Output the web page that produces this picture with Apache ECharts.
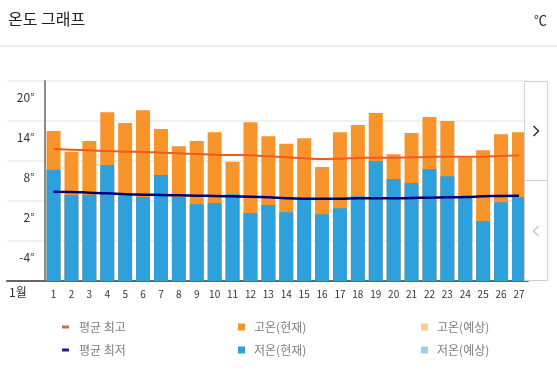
<!DOCTYPE html>
<html>
<head>
<meta charset="utf-8">
<script src="https://cdn.jsdelivr.net/npm/echarts@6/dist/echarts.min.js"></script>
<style>
    html, body { margin: 0; padding: 0; background: #fff; }
    #temp-chart { width: 557px; height: 376px; }
</style>
</head>
<body>
<div id="temp-chart"></div>
<script>
var days = ['1', '2', '3', '4', '5', '6', '7', '8', '9', '10', '11', '12', '13', '14',
    '15', '16', '17', '18', '19', '20', '21', '22', '23', '24', '25', '26', '27'];
var highNow = [12.5, 9.4, 11.0, 15.3, 13.7, 15.6, 12.8, 10.2, 11.0, 12.3, 7.9, 13.8, 11.7, 10.6,
    11.4, 7.1, 12.3, 13.4, 15.2, 9.0, 12.2, 14.6, 14.0, 8.5, 9.6, 12.0, 12.3];
var lowNow = [6.7, 2.9, 2.9, 7.4, 2.8, 2.6, 5.9, 2.6, 1.5, 1.7, 3.0, 0.2, 1.4, 0.3,
    2.2, 0.0, 0.9, 2.7, 8.0, 5.3, 4.7, 6.8, 5.7, 2.6, -1.0, 1.8, 2.6];
var highForecast = [];
var lowForecast = [];
var avgHigh = [9.8, 9.7, 9.6, 9.5, 9.4, 9.35, 9.25, 9.15, 9.05, 8.95, 8.9, 8.85, 8.7, 8.55,
    8.4, 8.3, 8.35, 8.45, 8.5, 8.5, 8.55, 8.6, 8.65, 8.65, 8.65, 8.75, 8.85];
var avgLow = [3.4, 3.35, 3.25, 3.15, 3.0, 2.95, 2.9, 2.85, 2.8, 2.75, 2.7, 2.65, 2.55, 2.4,
    2.35, 2.35, 2.35, 2.4, 2.4, 2.4, 2.45, 2.5, 2.55, 2.6, 2.7, 2.75, 2.8];
var yTicks = [-10, -4, 2, 8, 14, 20];

var font = '"Noto Sans CJK KR", "Noto Sans", sans-serif';

function legendBox(left, names, w, h, padLeft) {
    return {
        orient: 'vertical',
        left: left,
        top: 320,
        padding: 0,
        itemGap: 9,
        itemWidth: w,
        itemHeight: h,
        icon: 'rect',
        selectedMode: false,
        textStyle: {
            color: '#7f7f7f',
            fontSize: 12,
            lineHeight: 14,
            fontFamily: font,
            padding: [0, 0, 0, padLeft]
        },
        data: names
    };
}

var option = {
    animation: false,
    textStyle: { fontFamily: font },
    legend: [
        legendBox(62, [
            { name: '평균 최고', itemStyle: { color: '#cc6a54' } },
            { name: '평균 최저', itemStyle: { color: '#20208a' } }
        ], 7, 3, 5),
        legendBox(238, ['고온(현재)', '저온(현재)'], 7, 7, 4),
        legendBox(421, ['고온(예상)', '저온(예상)'], 7, 7, 4)
    ],
    grid: [
        { left: 44.6, top: 81, width: 483.3, height: 200 },
        { left: 7, top: 81, width: 37.6, height: 200 }
    ],
    xAxis: [
        {
            type: 'category',
            gridIndex: 0,
            data: days,
            axisTick: { show: false },
            axisLine: { onZero: false, lineStyle: { color: '#666', width: 2 } },
            axisLabel: { interval: 0, color: '#333', fontSize: 10, margin: 8 }
        },
        {
            type: 'category',
            gridIndex: 1,
            data: [''],
            axisTick: { show: false },
            axisLabel: { show: false },
            axisLine: { onZero: false, lineStyle: { color: '#666', width: 2 } }
        }
    ],
    yAxis: [
        {
            type: 'value',
            gridIndex: 0,
            min: yTicks[0],
            max: yTicks[yTicks.length - 1],
            startValue: yTicks[0],
            interval: 6,
            axisTick: { show: false },
            axisLine: { show: true, onZero: false, lineStyle: { color: '#8c8c8c', width: 2 } },
            splitLine: { lineStyle: { color: '#ececec', width: 1.5 } },
            axisLabel: {
                color: '#333',
                fontSize: 12,
                margin: 10,
                verticalAlign: 'top',
                lineHeight: 32,
                showMinLabel: false,
                formatter: '{value}°'
            }
        },
        {
            type: 'value',
            gridIndex: 1,
            min: yTicks[0],
            max: yTicks[yTicks.length - 1],
            interval: 6,
            axisTick: { show: false },
            axisLine: { show: false },
            axisLabel: { show: false },
            splitLine: { lineStyle: { color: '#ececec', width: 1.5 } }
        }
    ],
    series: [
        {
            name: '고온(현재)',
            type: 'bar',
            barWidth: 14,
            barGap: '-100%',
            itemStyle: { color: '#f7942a' },
            data: highNow
        },
        {
            name: '저온(현재)',
            type: 'bar',
            barWidth: 14,
            barGap: '-100%',
            itemStyle: { color: '#2ea0db' },
            data: lowNow
        },
        {
            name: '고온(예상)',
            type: 'bar',
            barWidth: 14,
            barGap: '-100%',
            itemStyle: { color: '#fdca92' },
            data: highForecast
        },
        {
            name: '저온(예상)',
            type: 'bar',
            barWidth: 14,
            barGap: '-100%',
            itemStyle: { color: '#9dd0ef' },
            data: lowForecast
        },
        {
            name: '평균 최고',
            type: 'line',
            smooth: true,
            symbol: 'none',
            z: 5,
            lineStyle: { color: '#f15a22', width: 2 },
            itemStyle: { color: '#f15a22' },
            data: avgHigh
        },
        {
            name: '평균 최저',
            type: 'line',
            smooth: true,
            symbol: 'none',
            z: 5,
            lineStyle: { color: '#00007f', width: 2.5 },
            itemStyle: { color: '#00007f' },
            data: avgLow
        }
    ],
    graphic: [
        { type: 'text', left: 8, top: 11, style: { text: '온도 그래프', fontSize: 16, fill: '#222', fontFamily: font } },
        { type: 'text', left: 534, top: 14, style: { text: '℃', fontSize: 13, fill: '#222', fontFamily: font } },
        { type: 'line', shape: { x1: 0, y1: 46, x2: 557, y2: 46 }, style: { stroke: '#dcdcdc', lineWidth: 1 } },
        { type: 'text', left: 9, top: 286, style: { text: '1월', fontSize: 12, fill: '#333', fontFamily: font } },
        { type: 'rect', z: 50, shape: { x: 524.5, y: 81.5, width: 23, height: 199 }, style: { fill: '#fff', stroke: '#cfcfcf', lineWidth: 1 } },
        { type: 'rect', z: 50, shape: { x: 528, y: 282, width: 29, height: 20 }, style: { fill: '#fff' } },
        { type: 'line', z: 51, shape: { x1: 524.5, y1: 180.5, x2: 547.5, y2: 180.5 }, style: { stroke: '#cfcfcf', lineWidth: 1 } },
        { type: 'polyline', z: 51, shape: { points: [[533.5, 126], [538.5, 131], [533.5, 136]] }, style: { stroke: '#333', lineWidth: 1.5, fill: null } },
        { type: 'polyline', z: 51, shape: { points: [[538.5, 226], [533.5, 231], [538.5, 236]] }, style: { stroke: '#c8c8c8', lineWidth: 1.5, fill: null } }
    ]
};

var tempChart = echarts.init(document.getElementById('temp-chart'));
tempChart.setOption(option);
</script>
</body>
</html>
